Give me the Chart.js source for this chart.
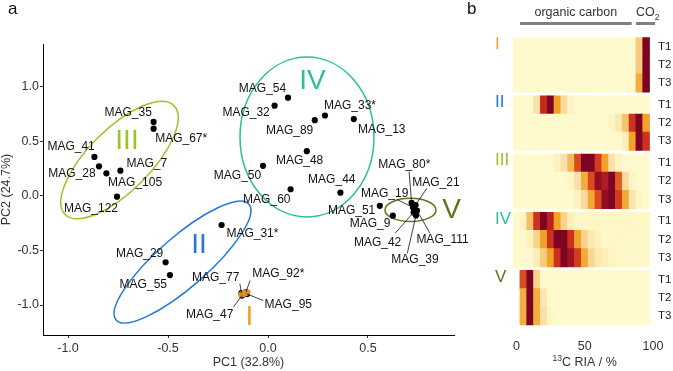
<!DOCTYPE html>
<html><head><meta charset="utf-8">
<script src="https://cdn.jsdelivr.net/npm/chart.js@4.4.1/dist/chart.umd.min.js"></script>
<style>
html,body{margin:0;padding:0;background:#fff;}
#wrap{position:relative;width:673px;height:371px;overflow:hidden;font-family:"Liberation Sans",Arial,sans-serif;}
#ca{position:absolute;left:0;top:0;width:470px;height:371px;}
#cb{position:absolute;left:470px;top:0;width:203px;height:371px;}
.pl{position:absolute;font-size:17px;color:#111;line-height:17px;}
</style></head><body>
<div id="wrap">
<canvas id="ca" width="470" height="371"></canvas>
<canvas id="cb" width="203" height="371"></canvas>
<div class="pl" style="left:8px;top:0px">a</div>
<div class="pl" style="left:467px;top:0px">b</div>
</div>
<script>
// ---------------- DATA: panel a (PCA) ----------------
const magNames = ['MAG_35','MAG_67*','MAG_41','MAG_28','MAG_105','MAG_7','MAG_122',
  'MAG_54','MAG_32','MAG_89','MAG_33*','MAG_13','MAG_48','MAG_50','MAG_60','MAG_44',
  'MAG_31*','MAG_29','MAG_55',
  'MAG_77','MAG_92*','MAG_95','MAG_47',
  'MAG_51','MAG_9','MAG_80*','MAG_21','MAG_19','MAG_42','MAG_111','MAG_39'];
const pc1 = [-0.572,-0.572,-0.868,-0.845,-0.808,-0.738,-0.755,
  0.100,0.033,0.234,0.285,0.429,0.194,-0.025,0.113,0.362,
  -0.232,-0.512,-0.490,
  -0.133,-0.110,-0.105,-0.130,
  0.559,0.624,0.718,0.738,0.725,0.728,0.745,0.740];
const pc2 = [0.679,0.617,0.358,0.272,0.208,0.232,-0.006,
  0.902,0.828,0.695,0.738,0.705,0.411,0.277,0.062,0.030,
  -0.266,-0.608,-0.725,
  -0.890,-0.881,-0.899,-0.913,
  -0.090,-0.181,-0.064,-0.083,-0.106,-0.151,-0.133,-0.179];
const xTicksA = [-1.0,-0.5,0.0,0.5];
const yTicksA = [-1.0,-0.5,0.0,0.5,1.0];
const xTitleA = 'PC1 (32.8%)';
const yTitleA = 'PC2 (24.7%)';

// group ellipses (data space: centre and two conjugate semi-axis vectors)
const groupNames = ['I','II','III','IV','V'];
const ellCx = [-0.1185,-0.4275,-0.7425,0.195,0.7125];
const ellCy = [-0.893,-0.606,0.330,0.541,-0.128];
const ellUx = [0.0325,0.332,0.272,0.335,0.1275];
const ellUy = [0.023,0.531,0.499,0,0];
const ellVx = [0.0065,0.082,0.1096,0,0];
const ellVy = [-0.030,-0.173,-0.201,0.734,0.107];

// ---------------- DATA: panel b (heatmap) ----------------
const binCenters = [0,5,10,15,20,25,30,35,40,45,50,55,60,65,70,75,80,85,90,95];
const rowLabels = ['T1','T2','T3'];
const xTicksB = [0,50,100];
const heatI = [
  [0,0,0,0,0,0,0,0,0,0,0,0,0,0,0,0,0,0,0.35,1],
  [0,0,0,0,0,0,0,0,0,0,0,0,0,0,0,0,0,0,0.35,1],
  [0,0,0,0,0,0,0,0,0,0,0,0,0,0,0,0,0,0,0.5,1]];
const heatII = [
  [0,0,0,0.2,0.82,1,0.55,0.25,0.06,0,0,0,0,0,0,0,0,0,0,0],
  [0,0,0,0,0,0,0,0,0,0,0,0,0,0,0.05,0.15,0.4,0.8,1,0.55],
  [0,0,0,0,0,0,0,0,0,0,0,0,0,0,0,0,0.1,0.55,1,0.8]];
const heatIII = [
  [0,0,0,0,0,0,0.08,0.2,0.45,0.75,1,1,0.78,0.55,0.2,0.06,0,0,0,0],
  [0,0,0,0,0,0,0,0,0.05,0.2,0.5,0.75,0.95,0.88,1,0.72,0.25,0.06,0,0],
  [0,0,0,0,0,0,0,0,0,0.08,0.25,0.52,0.75,0.95,1,0.78,0.52,0.18,0.04,0]];
const heatIV = [
  [0,0.06,0.42,0.8,1,0.85,0.55,0.3,0.1,0.04,0.04,0.04,0.04,0.04,0.04,0.04,0.04,0.04,0.04,0.04],
  [0,0,0.08,0.3,0.55,0.8,1,1,0.8,0.55,0.3,0.15,0.08,0.03,0.03,0.03,0.03,0.03,0.03,0.03],
  [0,0,0,0.1,0.35,0.55,0.8,1,0.92,0.78,0.52,0.28,0.15,0.1,0.06,0.03,0.03,0.03,0.03,0.03]];
const heatV = [
  [null,0.75,1,0.3,0,0,0,0,0,0,0,0,0,0,0,0,0,0,0,0],
  [null,0.5,1,0.5,0.15,0,0,0,0,0,0,0,0,0,0,0,0,0,0,0],
  [null,0.5,1,0.5,0.2,0.05,0,0,0,0,0,0,0,0,0,0,0,0,0,0]];
const heatGroups = [heatI,heatII,heatIII,heatIV,heatV];
const xTitleB = 'C RIA / %';

// ---------------- LAYOUT / STYLE ----------------
const FONT = '"Liberation Sans", Arial, sans-serif';
const groupColors = ['#f0a030','#2277e0','#9cc32a','#2bbf9b','#65701b'];
// label offsets (px, label centre relative to point) and optional leader-line starts
const labelOff = [[-25.4,-9.7],[27.6,9.6],[-23.3,-10.3],[-27,7.7],[28.7,9.4],[26.4,-6.7],[-26,11.6],
  [-25.5,-9.4],[-28.5,6.5],[-25.2,10.8],[25,-9.8],[28,10.1],[-7.2,9.8],[-25.5,10.2],[-23.8,10.8],[-8.6,-12.7],
  [30.8,8.3],[-26,-9],[-26.7,9.3],
  [-25.7,-15.8],[32.3,-18.2],[41.3,10.5],[-32.3,19],
  [-28.2,4.9],[-22.7,7.6],[-7.3,-38],[20.3,-22.3],[-28.3,-14.2],[-36,29.8],[25.5,28.8],[-1,43.8]];
const leader = [null,null,null,null,null,null,null,
  null,null,null,null,null,null,null,null,null,
  null,null,null,
  [-1.5,-9.2],[4,-11.5],[16.3,6.5],[-8.7,11.7],
  null,null,[-2.5,-31.3],[11.2,-16.7],[-16.3,-8.2],[-18.5,20.8],[13,22.8],[-8.7,37.8]];
const numeralA = [[-0.0925,-1.111],[-0.345,-0.450],[-0.705,0.505],[0.2225,1.055],[0.9185,-0.128]];
const groupGap = 0.2;
const rowPos = [];
for (let g = 0; g < 5; g++) for (let r = 0; r < 3; r++) rowPos.push(g * (3 + groupGap) + r);

const stops = [[0,[255,250,205]],[0.1,[253,239,186]],[0.25,[250,218,158]],[0.4,[247,196,110]],
  [0.55,[243,162,40]],[0.7,[230,100,30]],[0.82,[200,40,30]],[1,[125,5,35]]];
function heatColor(v){
  for (let i = 1; i < stops.length; i++){
    if (v <= stops[i][0]){
      const a = stops[i-1], b = stops[i];
      const t = (v - a[0]) / (b[0] - a[0]);
      const c = a[1].map((x,k)=>Math.round(x + (b[1][k]-x)*t));
      return 'rgb(' + c.join(',') + ')';
    }
  }
  return 'rgb(125,5,35)';
}

// ---------------- PANEL A ----------------
const ptsA = pc1.map((x,i)=>({x:x, y:pc2[i]}));

function ellipsePath(ctx, xs, ys, i){
  const cx = xs.getPixelForValue(ellCx[i]), cy = ys.getPixelForValue(ellCy[i]);
  const ux = xs.getPixelForValue(ellCx[i]+ellUx[i]) - cx, uy = ys.getPixelForValue(ellCy[i]+ellUy[i]) - cy;
  const vx = xs.getPixelForValue(ellCx[i]+ellVx[i]) - cx, vy = ys.getPixelForValue(ellCy[i]+ellVy[i]) - cy;
  ctx.save();
  ctx.beginPath();
  ctx.transform(ux, uy, vx, vy, cx, cy);
  ctx.arc(0, 0, 1, 0, Math.PI*2);
  ctx.restore();
}

const pluginA = {
  id:'pcaDecor',
  beforeDatasetsDraw(chart){
    const ctx = chart.ctx, xs = chart.scales.x, ys = chart.scales.y;
    ctx.save();
    ctx.lineWidth = 1.5;
    for (let i = 1; i < 5; i++){
      ellipsePath(ctx, xs, ys, i);
      ctx.strokeStyle = groupColors[i];
      ctx.stroke();
    }
    ctx.restore();
  },
  afterDatasetsDraw(chart){
    const ctx = chart.ctx, xs = chart.scales.x, ys = chart.scales.y;
    ctx.save();
    // group I small filled ellipse
    ellipsePath(ctx, xs, ys, 0);
    ctx.fillStyle = groupColors[0];
    ctx.globalAlpha = 0.9;
    ctx.fill();
    ctx.globalAlpha = 1;
    // labels and leader lines
    ctx.font = '12px ' + FONT;
    ctx.textAlign = 'center';
    ctx.textBaseline = 'middle';
    ctx.fillStyle = '#111';
    ctx.strokeStyle = '#111';
    ctx.lineWidth = 0.8;
    magNames.forEach((n,i)=>{
      const px = xs.getPixelForValue(pc1[i]), py = ys.getPixelForValue(pc2[i]);
      const o = labelOff[i];
      ctx.fillText(n, px + o[0], py + o[1]);
      if (leader[i]){
        ctx.beginPath();
        ctx.moveTo(px + leader[i][0], py + leader[i][1]);
        ctx.lineTo(px, py);
        ctx.stroke();
      }
    });
    // roman numerals
    ctx.font = '28px ' + FONT;
    groupNames.forEach((g,i)=>{
      ctx.fillStyle = groupColors[i];
      ctx.fillText(g, xs.getPixelForValue(numeralA[i][0]), ys.getPixelForValue(numeralA[i][1]));
    });
    // axis titles
    const ca = chart.chartArea;
    ctx.fillStyle = '#333';
    ctx.font = '12.5px ' + FONT;
    ctx.fillText(xTitleA, (ca.left + ca.right)/2, 363);
    ctx.translate(7, (ca.top + ca.bottom)/2);
    ctx.rotate(-Math.PI/2);
    ctx.fillText(yTitleA, 0, 0);
    ctx.restore();
  }
};

new Chart(document.getElementById('ca'), {
  type:'scatter',
  data:{datasets:[{data:ptsA, pointRadius:3.1, pointBackgroundColor:'#000', pointBorderWidth:0}]},
  options:{
    responsive:false, animation:false, events:[],
    layout:{padding:{left:0, right:16, top:44, bottom:0}},
    plugins:{legend:{display:false}, tooltip:{enabled:false}},
    scales:{
      x:{type:'linear', min:-1.125, max:0.93,
        afterBuildTicks(s){ s.ticks = xTicksA.map(v=>({value:v})); },
        afterFit(s){ s.height = 36; },
        grid:{display:true, drawOnChartArea:false, drawTicks:true, tickLength:3, color:'#333', lineWidth:1},
        border:{display:true, color:'#000', width:1},
        ticks:{padding:3, color:'#333', font:{size:12.5, family:FONT}, callback:v=>v.toFixed(1)}},
      y:{type:'linear', min:-1.275, max:1.394,
        afterBuildTicks(s){ s.ticks = yTicksA.map(v=>({value:v})); },
        afterFit(s){ s.width = 43; },
        grid:{display:true, drawOnChartArea:false, drawTicks:true, tickLength:3, color:'#333', lineWidth:1},
        border:{display:true, color:'#000', width:1},
        ticks:{padding:1, color:'#333', font:{size:12.5, family:FONT}, callback:v=>v.toFixed(1)}}
    }
  },
  plugins:[pluginA]
});

// ---------------- PANEL B ----------------
const cells = [], cellColors = [];
heatGroups.forEach((grp,g)=>{
  grp.forEach((row,r)=>{
    row.forEach((v,b)=>{
      if (v === null) return;
      cells.push({x:[binCenters[b]-2.5, binCenters[b]+2.5], y:rowPos[g*3+r]});
      cellColors.push(heatColor(v));
    });
  });
});

const pluginB = {
  id:'heatDecor',
  afterDatasetsDraw(chart){
    const ctx = chart.ctx, xs = chart.scales.x, ys = chart.scales.y;
    ctx.save();
    // header
    ctx.fillStyle = '#808080';
    const ocL = xs.getPixelForValue(2.6), ocR = xs.getPixelForValue(84.4);
    const coL = xs.getPixelForValue(87.5), coR = xs.getPixelForValue(101.6);
    ctx.fillRect(ocL, 22, ocR-ocL, 3);
    ctx.fillRect(coL, 22, coR-coL, 3);
    ctx.fillStyle = '#333';
    ctx.font = '12.5px ' + FONT;
    ctx.textBaseline = 'middle';
    ctx.textAlign = 'center';
    ctx.fillText('organic carbon', (ocL+ocR)/2, 13);
    ctx.textAlign = 'left';
    ctx.fillText('CO', coL, 13);
    const w = ctx.measureText('CO').width;
    ctx.font = '8.5px ' + FONT;
    ctx.fillText('2', coL + w, 17.5);
    // group numerals
    ctx.font = '17px ' + FONT;
    groupNames.forEach((gname,g)=>{
      ctx.fillStyle = groupColors[g];
      ctx.fillText(gname, 25, ys.getPixelForValue(rowPos[g*3]) - 2.5);
    });
    // x title with superscript
    ctx.fillStyle = '#333';
    ctx.font = '12.5px ' + FONT;
    const tw = ctx.measureText(xTitleB).width;
    ctx.font = '8.5px ' + FONT;
    const sw = ctx.measureText('13').width;
    const cx = xs.getPixelForValue(50);
    const x0 = cx - (tw + sw)/2;
    ctx.fillText('13', x0, 358.5);
    ctx.font = '12.5px ' + FONT;
    ctx.fillText(xTitleB, x0 + sw, 362.5);
    ctx.restore();
  }
};

new Chart(document.getElementById('cb'), {
  type:'bar',
  data:{datasets:[{data:cells, backgroundColor:cellColors, borderWidth:0, borderSkipped:false,
    categoryPercentage:1, barPercentage:1}]},
  options:{
    indexAxis:'y', responsive:false, animation:false, events:[],
    layout:{padding:{left:42.4, right:0, top:27.3, bottom:0}},
    plugins:{legend:{display:false}, tooltip:{enabled:false}},
    scales:{
      x:{type:'linear', min:-3, max:101.5,
        afterBuildTicks(s){ s.ticks = xTicksB.map(v=>({value:v})); },
        afterFit(s){ s.height = 35.7; },
        grid:{display:false, drawTicks:false}, border:{display:false},
        ticks:{padding:4, color:'#333', font:{size:12.5, family:FONT}}},
      y:{type:'linear', position:'right', reverse:true, min:-0.5, max:14.8+0.5,
        afterBuildTicks(s){ s.ticks = rowPos.map(v=>({value:v})); },
        afterFit(s){ s.width = 18; },
        grid:{display:false, drawTicks:false}, border:{display:false},
        ticks:{padding:3, color:'#222', font:{size:11.5, family:FONT}, callback:(v,i)=>rowLabels[i%3]}}
    }
  },
  plugins:[pluginB]
});
</script>
</body></html>
